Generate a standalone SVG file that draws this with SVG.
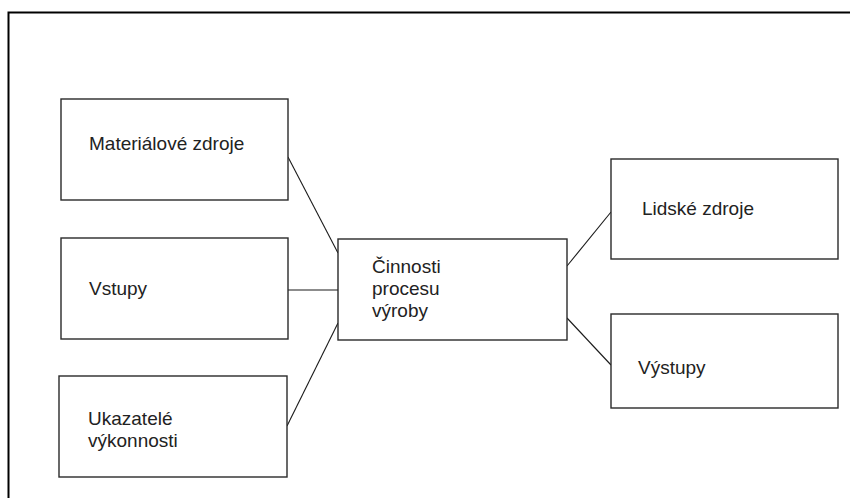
<svg xmlns="http://www.w3.org/2000/svg" width="850" height="498" viewBox="0 0 850 498">
  <style>
    .box { fill: #ffffff; stroke: #2a2a2a; stroke-width: 1.4; }
    .frame { fill: none; stroke: #000000; stroke-width: 2; }
    .link { stroke: #1a1a1a; stroke-width: 1.1; fill: none; }
    .lbl { font-family: "Liberation Sans", Arial, sans-serif; font-size: 19px; fill: #222222; }
  </style>
  <rect width="850" height="498" fill="#ffffff"/>
  <!-- outer frame, running off the right and bottom edges -->
  <path class="frame" d="M8.5,504 V12.5 H856"/>

  <g id="connectors">
    <line class="link" x1="288" y1="157" x2="338" y2="253"/>
    <line class="link" x1="288" y1="290" x2="338" y2="290"/>
    <line class="link" x1="287" y1="426" x2="338" y2="323"/>
    <line class="link" x1="567" y1="266" x2="611" y2="212"/>
    <line class="link" x1="567" y1="318" x2="611" y2="365"/>
  </g>

  <g id="materialove-zdroje">
    <rect class="box" x="61" y="99" width="227" height="101"/>
    <text class="lbl" x="89" y="150">Materiálové zdroje</text>
  </g>
  <g id="vstupy">
    <rect class="box" x="61" y="238" width="227" height="101"/>
    <text class="lbl" x="89" y="295">Vstupy</text>
  </g>
  <g id="ukazatele-vykonnosti">
    <rect class="box" x="59" y="376" width="228" height="101"/>
    <text class="lbl" x="88" y="425">Ukazatelé</text>
    <text class="lbl" x="88" y="447">výkonnosti</text>
  </g>
  <g id="cinnosti-procesu-vyroby">
    <rect class="box" x="338" y="239" width="229" height="101"/>
    <text class="lbl" x="372" y="273">Činnosti</text>
    <text class="lbl" x="372" y="295">procesu</text>
    <text class="lbl" x="372" y="317">výroby</text>
  </g>
  <g id="lidske-zdroje">
    <rect class="box" x="611" y="159" width="227" height="100"/>
    <text class="lbl" x="642" y="215">Lidské zdroje</text>
  </g>
  <g id="vystupy">
    <rect class="box" x="611" y="314" width="227" height="94"/>
    <text class="lbl" x="638" y="374">Výstupy</text>
  </g>
</svg>
